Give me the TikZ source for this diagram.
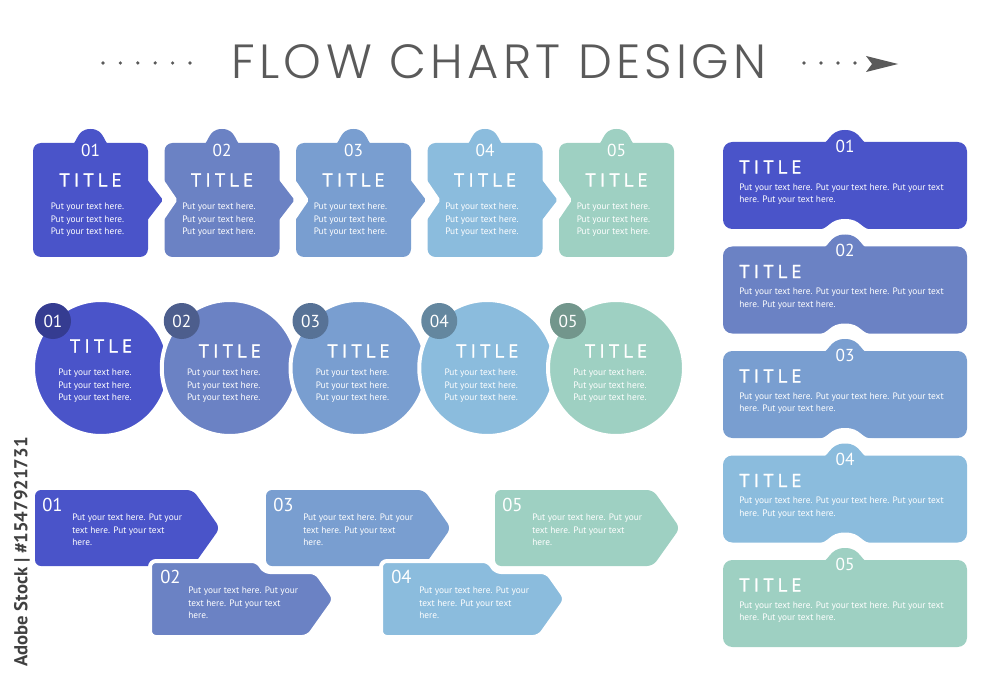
\documentclass[tikz,border=0pt]{standalone}
\usepackage{fontspec}
\setmainfont{PT Sans}
\IfFontExistsTF{Poppins Light}{\newfontfamily\headfont[LetterSpace=9]{Poppins Light}}{\newfontfamily\headfont[LetterSpace=9]{Poppins}}
\newfontfamily\titlefont[LetterSpace=22,FakeBold=1.2]{PT Sans}
\usetikzlibrary{calc}
\definecolor{stepA}{RGB}{74,84,201}
\definecolor{stepB}{RGB}{107,130,196}
\definecolor{stepC}{RGB}{121,158,208}
\definecolor{stepD}{RGB}{139,188,221}
\definecolor{stepE}{RGB}{158,208,194}
\definecolor{headgray}{RGB}{90,90,90}
\tikzset{
  numtext/.style={text=white, inner sep=0pt, font=\fontsize{13}{13}\selectfont},
  titletext/.style={text=white, inner sep=0pt, font=\titlefont\fontsize{14}{14}\selectfont},
  bodytext/.style={text=white, inner sep=0pt, font=\fontsize{7}{9.4}\selectfont},
  gapline/.style={draw=white, line width=3pt},
}

\begin{document}
\begin{tikzpicture}[x=0.75pt, y=-0.75pt]
    \useasboundingbox (0,0) rectangle (1000,681);
    % heading
    \node[text=headgray, inner sep=0pt, font=\headfont\fontsize{36}{36}\selectfont] (head) at (499,62) {FLOW CHART DESIGN};
    \foreach \k in {0,...,5} \fill[headgray] (103+17.4*\k,63) circle (1.8);
    \foreach \k in {0,...,3} \fill[headgray] (804+17*\k,63) circle (1.8);
    \fill[headgray] (866,56) -- (898,64) -- (866,72) -- (872,64) -- cycle;
    \node[rotate=90, text=black!75, inner sep=0pt, font=\bfseries\fontsize{14}{14}\selectfont] (stock) at (22,552) {Adobe Stock | \#1547921731};
    % top row
    \foreach \i/\c in {1/stepA,2/stepB,3/stepC,4/stepD,5/stepE}{
        \pgfmathsetmacro\xa{33+131.5*(\i-1)}
        \pgfmathsetmacro\xb{\xa+115}
        \pgfmathsetmacro\xm{\xa+57.5}
        \fill[\c] (\xm-22,146) .. controls (\xm-12,146) and (\xm-16,129) .. (\xm,129) .. controls (\xm+16,129) and (\xm+12,146) .. (\xm+22,146) -- cycle;
        \fill[\c, rounded corners=6pt] (\xa,143) rectangle (\xb,257);
        \ifnum\i<5
            \fill[\c, rounded corners=1.5pt] (\xb-2,178) -- (\xb+15,200) -- (\xb-2,222) -- cycle;
        \fi
        \ifnum\i>1
            \fill[white, rounded corners=1.5pt] (\xa-2,178) -- (\xa+13,200) -- (\xa-2,222) -- cycle;
        \fi
        \node[numtext] (tnum\i) at (\xm,150) {0\i};
        \node[titletext] (ttitle\i) at (\xm,180) {TITLE};
        \node[bodytext, align=center] (ttext\i) at (\xm-3,220) {Put your text here.\\Put your text here.\\Put your text here.};
    }
    % circle row
    \foreach \i/\c/\ty in {1/stepA/346,2/stepB/351,3/stepC/351,4/stepD/351,5/stepE/351}{
        \pgfmathsetmacro\cx{101+128.75*(\i-1)}
        \filldraw[fill=\c, gapline] (\cx,368) circle (68);
        \fill[\c!72!black] (\cx-48,321) circle (18);
        \node[numtext] (cnum\i) at (\cx-48,321) {0\i};
        \node[titletext] (ctitle\i) at (\cx,\ty) {TITLE};
        \node[bodytext, align=center] (ctext\i) at (\cx-6,386) {Put your text here.\\Put your text here.\\Put your text here.};
    }
    % bottom arrows
    \foreach \i/\c/\xa in {1/stepA/35,3/stepC/266,5/stepE/495}{
        \fill[\c, rounded corners=4.5pt] (\xa,490) -- (\xa+158,490) -- (\xa+185,528) -- (\xa+158,566) -- (\xa,566) -- cycle;
        \node[numtext, anchor=west, font=\fontsize{14}{14}\selectfont] (bnum\i) at (\xa+7,505) {0\i};
        \node[bodytext, align=left, anchor=west] (btext\i) at (\xa+37,530) {Put your text here. Put your\\text here. Put your text\\here.};
    }
    \foreach \i/\c/\xa in {2/stepB/150,4/stepD/381}{
        \filldraw[fill=\c, gapline, rounded corners=4.5pt] (\xa,561) -- (\xa+108,561) -- (\xa+114,572) -- (\xa+166,572) -- (\xa+185,599) -- (\xa+158,637) -- (\xa,637) -- cycle;
        \node[numtext, anchor=west, font=\fontsize{14}{14}\selectfont] (bnum\i) at (\xa+10,577) {0\i};
        \node[bodytext, align=left, anchor=west] (btext\i) at (\xa+38,603) {Put your text here. Put your\\text here. Put your text\\here.};
    }
    % right column
    \foreach \i/\c in {1/stepA,2/stepB,3/stepC,4/stepD,5/stepE}{
        \pgfmathsetmacro\ya{142+104.5*(\i-1)}
        \fill[\c] (818,\ya+3) .. controls (830,\ya+3) and (828,\ya-12) .. (845,\ya-12) .. controls (862,\ya-12) and (860,\ya+3) .. (872,\ya+3) -- cycle;
        \fill[\c, rounded corners=7pt] (723,\ya) rectangle (967,\ya+87);
        \ifnum\i<5
            \fill[white] (816,\ya+88) .. controls (830,\ya+88) and (828,\ya+77) .. (845,\ya+77) .. controls (862,\ya+77) and (860,\ya+88) .. (874,\ya+88) -- cycle;
        \fi
        \node[numtext] (rnum\i) at (845,\ya+4) {0\i};
        \node[titletext, anchor=west] (rtitle\i) at (739,\ya+25) {TITLE};
        \node[bodytext, align=left, anchor=west] (rtext\i) at (739,\ya+52) {Put your text here. Put your text here. Put your text\\here. Put your text here.};
    }
\end{tikzpicture}
\end{document}
